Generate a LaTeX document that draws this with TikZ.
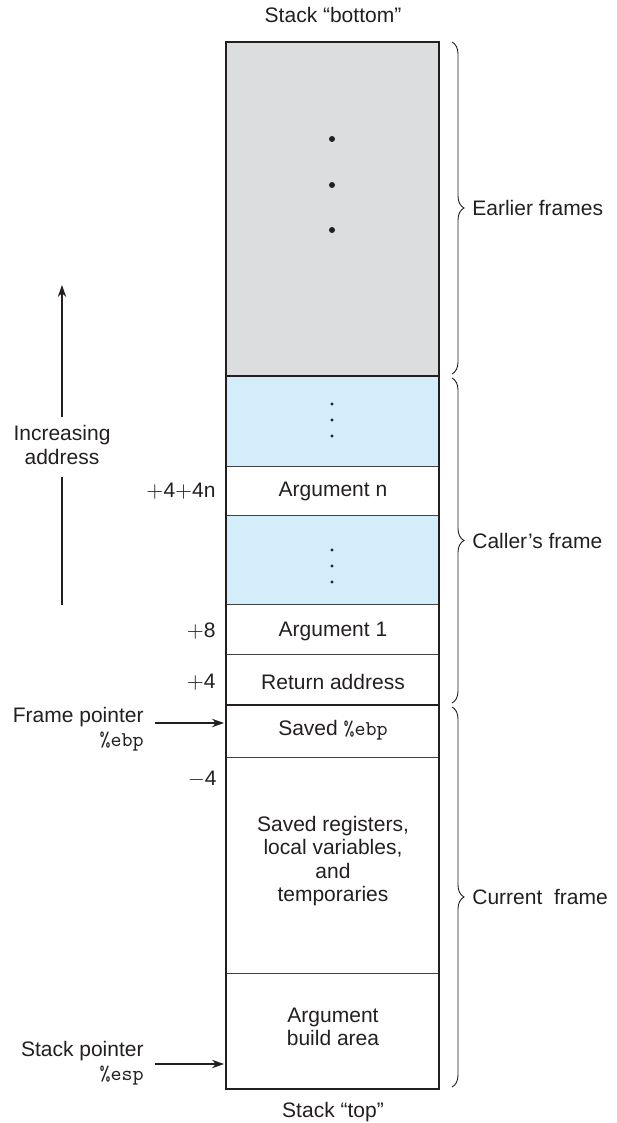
\documentclass[tikz,border=0pt]{standalone}
\usepackage{fontspec}
\setmainfont{Liberation Sans}
\usetikzlibrary{decorations.pathreplacing,arrows.meta}
\definecolor{ink}{HTML}{231F20}
\definecolor{graybg}{HTML}{DCDDDF}
\definecolor{bluebg}{HTML}{D4EDFA}
\begin{document}
\begin{tikzpicture}[x=0.5pt,y=-0.5pt,
  txt/.style={font=\fontsize{10.5}{11.75}\selectfont,text=ink,inner sep=0pt,align=center},
  lbl/.style={txt,anchor=west,align=left},
  off/.style={txt,anchor=east,align=right},
  sepline/.style={draw=ink!85,line width=0.5pt},
  heavyline/.style={draw=ink,line width=1.4pt},
  arr/.style={draw=ink,line width=0.9pt,-{Stealth[length=6pt,width=4.2pt]}},
  brc/.style={draw=ink,line width=0.45pt,decorate,decoration={brace,amplitude=6pt}},
  bigdot/.style={fill=ink},
  smalldot/.style={fill=ink}]
\useasboundingbox (0,0) rectangle (616,1123);
% fills
\fill[graybg] (226,42) rectangle (439,376);
\fill[bluebg] (226,376) rectangle (439,466);
\fill[bluebg] (226,515) rectangle (439,604);
% separators
\foreach \yy in {466,515,604,654,757,973} \draw[sepline] (226,\yy) -- (439,\yy);
\draw[heavyline] (226,376) -- (439,376);
\draw[heavyline] (226,705) -- (439,705);
\draw[heavyline] (226,42) rectangle (439,1089);
% dots
\foreach \yy in {139,185,230} \fill[bigdot] (332,\yy) circle (3);
\foreach \yy in {404,420,436,550,566,582} \fill[smalldot] (332,\yy) circle (1.7);
% texts
\node[txt] (sbot) at (333,15) {Stack “bottom”};
\node[txt] (stop) at (333,1112) {Stack “top”};
\node[txt] (argn) at (333,491) {Argument n};
\node[off] (offn) at (216,491) {$+$4$+$4n};
\node[txt] (arg1) at (333,631) {Argument 1};
\node[off] (off8) at (216,631) {$+$8};
\node[txt] (ret) at (333,682) {Return address};
\node[off] (off4) at (216,682) {$+$4};
\node[txt] (sebp) at (333,730) {Saved \texttt{\%ebp}};
\node[off] (offm4) at (217,779) {$-$4};
\node[txt] (locals) at (333,861) {Saved registers,\\local variables,\\and\\temporaries};
\node[txt] (build) at (333,1027) {Argument\\build area};
\node[off] (fp) at (144,729) {Frame pointer\\\texttt{\%ebp}};
\node[off] (sp) at (144,1063) {Stack pointer\\\texttt{\%esp}};
\node[txt] (inc) at (62,445) {Increasing\\address};
% arrows
\coordinate (fps) at (155,723);
\coordinate (fpt) at (224,723);
\coordinate (sps) at (155,1064);
\coordinate (spt) at (224,1064);
\draw[arr] (fps) -- (fpt);
\draw[arr] (sps) -- (spt);
\coordinate (incbot) at (62,605);
\coordinate (inctop) at (62,285);
\draw[draw=ink,line width=0.9pt] (incbot) -- (62,477);
\draw[arr] (62,417) -- (inctop);
% braces
\draw[brc] (452,42) -- (452,374);
\draw[brc] (452,378) -- (452,703);
\draw[brc] (452,707) -- (452,1087);
\node[lbl] (earlier) at (472,208) {Earlier frames};
\node[lbl] (caller) at (472,541) {Caller’s frame};
\node[lbl] (current) at (472,897) {Current\ \ frame};
\end{tikzpicture}
\end{document}
